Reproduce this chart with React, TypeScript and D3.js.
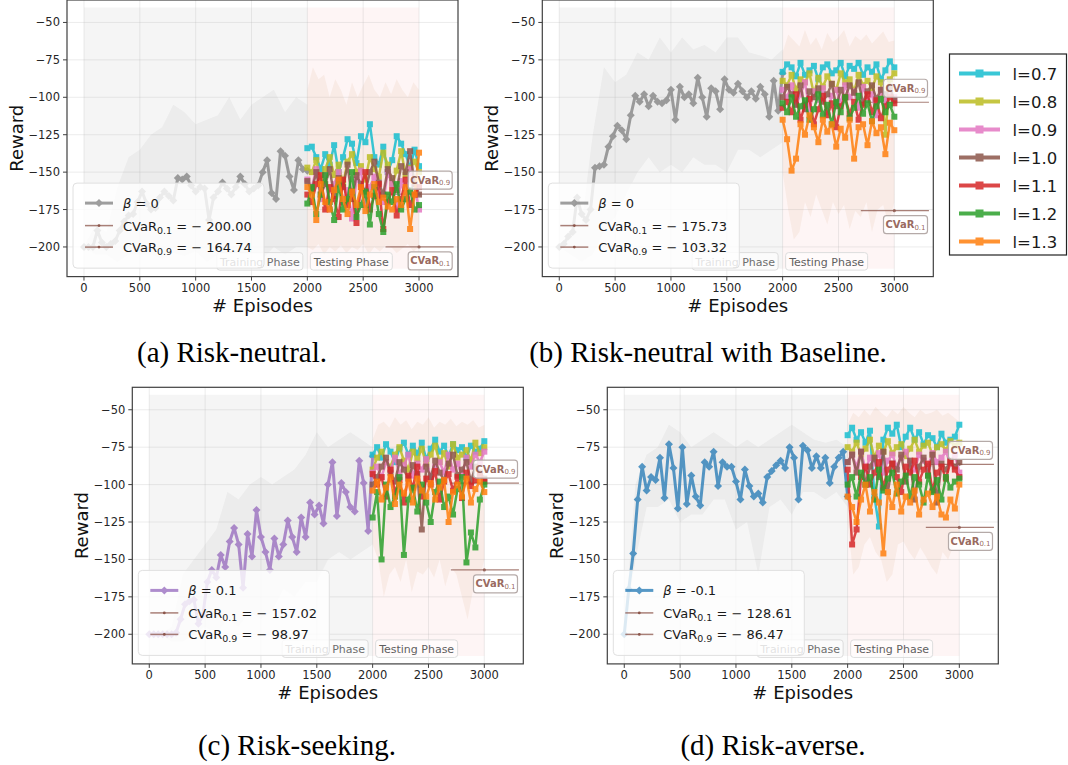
import React from "react";
import * as d3 from "d3";

// ---------------- DATA ----------------
const trainEpisodes = d3.range(0, 2001, 40);
const testEpisodes = d3.range(2000, 3001, 40);
const bandTrainEpisodes = d3.range(0, 2001, 100);
const bandTestEpisodes = d3.range(2000, 3001, 50);

const xTicks = [0, 500, 1000, 1500, 2000, 2500, 3000];
const yTicks = [-50, -75, -100, -125, -150, -175, -200];

const lambdaLabels = ["l=0.7", "l=0.8", "l=0.9", "l=1.0", "l=1.1", "l=1.2", "l=1.3"];
const lambdaColors = ["#17becf", "#bcbd22", "#e377c2", "#8c564b", "#d62728", "#2ca02c", "#ff7f0e"];

// Panel (a) Risk-neutral
const trainA = [-200, -200, -200, -189, -197, -200, -198, -196, -189, -183, -179, -178, -170, -163, -171, -175, -174, -167, -163, -166, -169, -154, -155, -153, -159, -163, -160, -161, -182, -167, -163, -157, -161, -165, -160, -153, -158, -163, -161, -159, -150, -142, -164, -168, -136, -139, -153, -162, -142, -148, -149];
const trainUpA = [-200, -185, -190, -160, -140, -135, -125, -120, -105, -110, -118, -115, -112, -100, -115, -105, -100, -95, -110, -100, -105];
const trainLoA = [-200, -205, -205, -210, -205, -205, -205, -208, -204, -206, -203, -210, -205, -208, -210, -205, -208, -200, -205, -200, -200];
const testUpA = [-95, -80, -88, -85, -100, -88, -95, -105, -90, -100, -92, -85, -95, -100, -90, -98, -88, -95, -100, -90, -95];
const testLoA = [-200, -202, -198, -205, -200, -203, -199, -204, -200, -202, -198, -205, -200, -203, -199, -200, -204, -201, -198, -203, -200];
const testA = [
  [-134, -133, -140, -148, -138, -145, -132, -150, -140, -128, -131, -144, -126, -130, -118, -140, -145, -133, -150, -142, -126, -131, -138, -147, -135, -146],
  [-147, -150, -142, -156, -148, -140, -152, -145, -158, -143, -138, -150, -146, -155, -140, -148, -153, -137, -145, -158, -149, -136, -152, -147, -143, -150],
  [-155, -160, -148, -168, -152, -175, -158, -150, -170, -162, -181, -155, -149, -172, -160, -153, -165, -170, -150, -158, -175, -156, -168, -148, -160, -175],
  [-156, -162, -150, -165, -158, -148, -166, -154, -160, -145, -168, -152, -158, -163, -150, -143, -157, -165, -148, -154, -162, -146, -150, -136, -158, -165],
  [-165, -170, -158, -152, -175, -160, -168, -180, -155, -172, -163, -184, -160, -150, -175, -166, -158, -188, -170, -162, -179, -168, -155, -172, -165, -160],
  [-171, -160, -178, -165, -152, -170, -182, -158, -175, -168, -150, -180, -172, -163, -185, -160, -178, -190, -165, -170, -158, -175, -168, -162, -175, -172],
  [-160, -165, -182, -158, -170, -175, -162, -155, -168, -178, -163, -172, -160, -176, -165, -158, -170, -167, -173, -175, -168, -172, -160, -188, -165, -137],
];

// Panel (b) Risk-neutral with Baseline
const trainB = [-200, -198, -193, -190, -167, -178, -182, -175, -147, -146, -145, -133, -126, -119, -122, -128, -112, -99, -103, -98, -106, -99, -103, -104, -102, -95, -115, -93, -100, -98, -104, -87, -100, -113, -94, -96, -108, -88, -95, -97, -91, -96, -100, -96, -101, -93, -98, -113, -89, -109, -84];
const trainUpB = [-200, -190, -185, -125, -80, -90, -85, -70, -75, -60, -70, -60, -68, -65, -70, -60, -60, -70, -72, -75, -68];
const trainLoB = [-200, -205, -210, -205, -190, -180, -165, -150, -140, -150, -145, -150, -140, -145, -145, -150, -135, -135, -140, -135, -130];
const testUpB = [-70, -58, -62, -66, -55, -65, -60, -68, -57, -63, -60, -55, -66, -59, -62, -58, -64, -60, -56, -63, -62];
const testLoB = [-150, -175, -195, -190, -170, -180, -165, -175, -185, -170, -178, -172, -188, -176, -180, -170, -190, -175, -172, -185, -170];
const testB = [
  [-83, -78, -80, -86, -77, -85, -82, -79, -88, -80, -78, -84, -82, -77, -86, -79, -81, -77, -85, -80, -83, -78, -88, -82, -76, -80],
  [-89, -92, -85, -95, -88, -90, -84, -98, -87, -93, -86, -91, -95, -84, -90, -88, -96, -85, -92, -89, -94, -86, -90, -125, -88, -84],
  [-95, -100, -92, -105, -98, -90, -108, -96, -102, -94, -110, -99, -95, -104, -92, -100, -96, -107, -93, -101, -98, -112, -95, -103, -97, -100],
  [-100, -93, -98, -105, -92, -108, -96, -100, -94, -103, -98, -91, -106, -95, -100, -92, -97, -90, -104, -96, -92, -101, -95, -98, -93, -102],
  [-107, -103, -110, -98, -115, -105, -101, -118, -108, -99, -112, -104, -120, -106, -100, -111, -103, -115, -105, -98, -110, -102, -114, -106, -100, -104],
  [-104, -110, -100, -113, -106, -102, -115, -108, -98, -112, -105, -118, -103, -110, -100, -114, -107, -99, -111, -104, -116, -106, -101, -110, -105, -113],
  [-115, -128, -149, -141, -118, -125, -112, -120, -130, -115, -123, -118, -133, -121, -127, -115, -141, -120, -118, -132, -116, -124, -120, -138, -117, -122],
];

// Panel (c) Risk-seeking
const trainC = [-200, -200, -200, -200, -200, -200, -199, -190, -180, -178, -177, -193, -187, -165, -157, -162, -147, -155, -138, -129, -140, -169, -133, -148, -117, -135, -145, -157, -136, -148, -140, -124, -135, -145, -122, -135, -112, -120, -114, -126, -100, -85, -121, -99, -105, -115, -118, -84, -99, -131, -81];
const trainUpC = [-200, -200, -195, -160, -150, -140, -130, -105, -110, -100, -95, -100, -95, -90, -80, -65, -75, -70, -65, -70, -75];
const trainLoC = [-200, -200, -205, -205, -200, -195, -200, -190, -195, -185, -190, -185, -170, -175, -165, -165, -150, -145, -150, -145, -140];
const testUpC = [-70, -60, -58, -62, -55, -60, -57, -63, -58, -60, -55, -62, -58, -60, -56, -61, -58, -60, -57, -62, -60];
const testLoC = [-140, -150, -175, -160, -155, -165, -150, -172, -158, -160, -155, -162, -150, -168, -155, -160, -175, -190, -170, -165, -150];
const testC = [
  [-80, -75, -82, -73, -78, -85, -76, -72, -80, -74, -79, -72, -83, -76, -70, -78, -74, -81, -73, -77, -75, -82, -74, -78, -76, -71],
  [-90, -82, -78, -85, -88, -80, -75, -84, -90, -78, -83, -76, -86, -80, -74, -85, -79, -88, -73, -82, -80, -77, -84, -72, -79, -75],
  [-92, -88, -95, -85, -90, -82, -93, -87, -80, -94, -86, -90, -83, -96, -88, -85, -92, -80, -90, -86, -94, -82, -88, -80, -85, -78],
  [-100, -95, -88, -82, -92, -98, -85, -90, -96, -87, -93, -130, -88, -95, -84, -92, -97, -86, -80, -94, -90, -85, -98, -88, -92, -96],
  [-93, -100, -95, -108, -90, -105, -97, -112, -94, -102, -88, -108, -96, -100, -91, -110, -98, -93, -104, -95, -109, -92, -101, -97, -94, -98],
  [-122, -105, -150, -100, -115, -108, -95, -147, -110, -102, -118, -100, -112, -125, -105, -98, -115, -108, -120, -103, -95, -152, -132, -142, -110, -100],
  [-104, -98, -110, -102, -95, -113, -100, -106, -98, -112, -96, -104, -108, -99, -110, -102, -97, -125, -105, -100, -108, -96, -112, -103, -98, -105],
];

// Panel (d) Risk-averse
const trainD = [-200, -170, -146, -110, -88, -104, -95, -97, -82, -109, -73, -89, -116, -75, -113, -94, -108, -114, -85, -88, -78, -101, -85, -88, -88, -98, -110, -90, -101, -108, -106, -112, -95, -91, -87, -84, -89, -75, -82, -110, -74, -77, -89, -81, -89, -82, -99, -88, -82, -78, -108];
const trainUpD = [-200, -100, -80, -75, -60, -65, -75, -70, -65, -70, -75, -70, -75, -70, -65, -60, -65, -70, -72, -70, -75];
const trainLoD = [-200, -150, -115, -115, -110, -125, -120, -120, -110, -110, -130, -125, -160, -115, -110, -120, -105, -105, -110, -105, -115];
const testUpD = [-60, -52, -55, -50, -54, -48, -52, -55, -50, -53, -48, -52, -55, -50, -53, -52, -50, -54, -52, -55, -58];
const testLoD = [-125, -160, -155, -140, -135, -145, -150, -165, -160, -140, -138, -145, -150, -142, -148, -155, -160, -145, -150, -140, -135];
const testD = [
  [-67, -62, -70, -65, -72, -64, -108, -128, -70, -62, -66, -60, -75, -68, -62, -70, -65, -73, -67, -69, -75, -66, -72, -70, -68, -60],
  [-75, -78, -72, -80, -76, -70, -82, -74, -78, -71, -79, -75, -73, -81, -76, -70, -78, -74, -72, -80, -75, -73, -77, -71, -74, -72],
  [-85, -80, -88, -78, -90, -82, -86, -79, -92, -84, -80, -88, -82, -78, -86, -90, -80, -84, -88, -79, -85, -82, -78, -86, -80, -92],
  [-85, -80, -92, -78, -100, -88, -82, -95, -78, -105, -86, -90, -80, -98, -84, -110, -88, -82, -94, -80, -112, -86, -90, -84, -88, -85],
  [-90, -140, -130, -95, -88, -100, -92, -85, -102, -90, -86, -95, -105, -88, -92, -84, -98, -90, -86, -104, -92, -88, -96, -85, -90, -95],
  [-100, -95, -108, -92, -100, -95, -110, -90, -104, -96, -92, -106, -98, -94, -108, -95, -100, -112, -94, -105, -97, -110, -95, -102, -98, -96],
  [-108, -115, -125, -110, -100, -118, -105, -112, -146, -105, -115, -100, -118, -108, -112, -104, -120, -110, -106, -115, -108, -120, -122, -110, -116, -100],
];

const betaLabels = ["0", "0", "0.1", "-0.1"];
const cvar01Values = [-200.0, -175.73, -157.02, -128.61];
const cvar09Values = [-164.74, -103.32, -98.97, -86.47];
const captions = ["(a) Risk-neutral.", "(b) Risk-neutral with Baseline.", "(c) Risk-seeking.", "(d) Risk-averse."];

// ---------------- LAYOUT ----------------
const FRAME_W = 391;
const FRAME_H = 276.6;
const X_DOMAIN = [-152, 3349];
const Y_DOMAIN = [-219.8, -35];
const SANS = "DejaVu Sans";
const SERIF = "Liberation Serif";
const CVAR_COLOR = "#8c564b";

const panelLayout = [
  { left: 67, top: 0 },
  { left: 542.3, top: 0 },
  { left: 132.3, top: 387.3 },
  { left: 607.3, top: 387.3 },
];
const captionLayout = [
  { x: 232, y: 362 },
  { x: 708, y: 362 },
  { x: 297, y: 755 },
  { x: 773, y: 755 },
];
const trainColors = ["#7f7f7f", "#7f7f7f", "#9467bd", "#1f77b4"];

const diamond = (r: number) => `M0,${-r}L${r},0L0,${r}L${-r},0Z`;

type PanelProps = {
  left: number;
  top: number;
  train: number[];
  trainUp: number[];
  trainLo: number[];
  testUp: number[];
  testLo: number[];
  tests: number[][];
  color: string;
  beta: string;
  cvar01: number;
  cvar09: number;
  id: string;
};

function CVaRLabel({ cx, cy, sub }: { cx: number; cy: number; sub: string }) {
  const w = 44;
  const h = 18;
  return (
    <g>
      <rect x={cx - w / 2} y={cy - h / 2} width={w} height={h} rx={3} fill="#ffffff" fillOpacity={0.8} stroke="#b5aaa8" strokeWidth={1.2} />
      <text x={cx} y={cy + 3.5} textAnchor="middle" fontFamily={SANS} fontSize={10} fontWeight="bold" fill={CVAR_COLOR} fillOpacity={0.9}>
        CVaR
        <tspan fontSize={7} fontWeight="normal" dy={1.5}>{sub}</tspan>
      </text>
    </g>
  );
}

function Panel(p: PanelProps) {
  const x = d3.scaleLinear().domain(X_DOMAIN).range([p.left, p.left + FRAME_W]);
  const y = d3.scaleLinear().domain(Y_DOMAIN).range([p.top + FRAME_H, p.top]);
  const bottom = p.top + FRAME_H;

  const trainLine = d3.line<number>().x((_, i) => x(trainEpisodes[i])).y((d) => y(d));
  const testLine = d3.line<number>().x((_, i) => x(testEpisodes[i])).y((d) => y(d));
  const trainBand = d3
    .area<number>()
    .x((_, i) => x(bandTrainEpisodes[i]))
    .y0((_, i) => y(p.trainLo[i]))
    .y1((d) => y(d));
  const testBand = d3
    .area<number>()
    .x((_, i) => x(bandTestEpisodes[i]))
    .y0((_, i) => y(p.testLo[i]))
    .y1((d) => y(d));

  const fmt = d3.format(".2f");
  const regionTop = y(-40);
  const regionBottom = y(-214.5);

  const legLeft = p.left + 6;
  const legTop = bottom - 8.5 - 85;
  const legW = 191;
  const legH = 85;
  const entryY = [legTop + 20, legTop + 42.5, legTop + 64];
  const lx0 = legLeft + 12;
  const lx1 = legLeft + 40;
  const tx = legLeft + 50;

  const cvarLineY09 = y(p.cvar09);
  const cvarLineY01 = y(p.cvar01);
  const labelCx = x(3100);

  const x2000 = x(2000);

  return (
    <g>
      <defs>
        <clipPath id={`clip-${p.id}`}>
          <rect x={p.left} y={p.top} width={FRAME_W} height={FRAME_H} />
        </clipPath>
      </defs>
      <rect x={p.left} y={p.top} width={FRAME_W} height={FRAME_H} fill="#ffffff" />
      {/* phase regions */}
      <rect x={x(0)} y={regionTop} width={x(2000) - x(0)} height={regionBottom - regionTop} fill="#808080" fillOpacity={0.08} />
      <rect x={x(2000)} y={regionTop} width={x(3000) - x(2000)} height={regionBottom - regionTop} fill="#f08080" fillOpacity={0.08} />
      {/* grid */}
      {xTicks.map((t) => (
        <line key={"gx" + t} x1={x(t)} x2={x(t)} y1={p.top} y2={bottom} stroke="#b0b0b0" strokeOpacity={0.3} strokeWidth={0.8} />
      ))}
      {yTicks.map((t) => (
        <line key={"gy" + t} x1={p.left} x2={p.left + FRAME_W} y1={y(t)} y2={y(t)} stroke="#b0b0b0" strokeOpacity={0.3} strokeWidth={0.8} />
      ))}
      <g clipPath={`url(#clip-${p.id})`}>
        {/* bands */}
        <path d={trainBand(p.trainUp) || ""} fill="#9a9a9a" fillOpacity={0.1} />
        <path d={testBand(p.testUp) || ""} fill="#d9a27a" fillOpacity={0.12} />
        {/* CVaR lines */}
        <line x1={x(2700)} x2={x(3310)} y1={cvarLineY09} y2={cvarLineY09} stroke={CVAR_COLOR} strokeOpacity={0.75} strokeWidth={1.2} />
        <circle cx={x(3000)} cy={cvarLineY09} r={1.6} fill={CVAR_COLOR} fillOpacity={0.8} />
        <line x1={x(2700)} x2={x(3310)} y1={cvarLineY01} y2={cvarLineY01} stroke={CVAR_COLOR} strokeOpacity={0.75} strokeWidth={1.2} />
        <circle cx={x(3000)} cy={cvarLineY01} r={1.6} fill={CVAR_COLOR} fillOpacity={0.8} />
        {/* training series */}
        <g opacity={0.75}>
          <path d={trainLine(p.train) || ""} fill="none" stroke={p.color} strokeWidth={3} strokeLinejoin="round" />
          {p.train.map((v, i) => (
            <path key={i} d={diamond(4)} transform={`translate(${x(trainEpisodes[i])},${y(v)})`} fill={p.color} />
          ))}
        </g>
        {/* test series */}
        {p.tests.map((s, k) => (
          <g key={k} opacity={0.85}>
            <path d={testLine(s) || ""} fill="none" stroke={lambdaColors[k]} strokeWidth={2.5} strokeLinejoin="round" />
            {s.map((v, i) => (
              <rect key={i} x={x(testEpisodes[i]) - 3} y={y(v) - 3} width={6} height={6} fill={lambdaColors[k]} />
            ))}
          </g>
        ))}
      </g>
      {/* phase labels */}
      <g fontFamily={SANS} fontSize={11}>
        <rect x={x2000 - 4.5 - 86} y={bottom - 24} width={86} height={17.5} rx={3} fill="#ffffff" fillOpacity={0.6} stroke="#dddddd" strokeWidth={1} />
        <text x={x2000 - 4.5 - 43} y={bottom - 11} textAnchor="middle" fill="#6f6f6f">Training Phase</text>
        <rect x={x2000 + 3} y={bottom - 24} width={82} height={17.5} rx={3} fill="#ffffff" fillOpacity={0.6} stroke="#dddddd" strokeWidth={1} />
        <text x={x2000 + 3 + 41} y={bottom - 11} textAnchor="middle" fill="#5f5f5f">Testing Phase</text>
      </g>
      {/* CVaR labels */}
      <CVaRLabel cx={labelCx} cy={cvarLineY09 - 5 - 9} sub="0.9" />
      <CVaRLabel cx={labelCx} cy={cvarLineY01 + 5 + 9} sub="0.1" />
      {/* legend */}
      <rect x={legLeft} y={legTop} width={legW} height={legH} rx={4} fill="#ffffff" fillOpacity={0.8} stroke="#e0e0e0" strokeWidth={1} />
      <g opacity={0.75}>
        <line x1={lx0} x2={lx1} y1={entryY[0]} y2={entryY[0]} stroke={p.color} strokeWidth={3} />
        <path d={diamond(4)} transform={`translate(${(lx0 + lx1) / 2},${entryY[0]})`} fill={p.color} />
      </g>
      {[1, 2].map((k) => (
        <g key={k}>
          <line x1={lx0} x2={lx1} y1={entryY[k]} y2={entryY[k]} stroke={CVAR_COLOR} strokeOpacity={0.75} strokeWidth={1.5} />
          <circle cx={(lx0 + lx1) / 2} cy={entryY[k]} r={1.4} fill={CVAR_COLOR} />
        </g>
      ))}
      <g fontFamily={SANS} fontSize={13} fill="#1a1a1a">
        <text x={tx} y={entryY[0] + 5}>
          <tspan fontStyle="italic">β</tspan>
          <tspan> = {p.beta}</tspan>
        </text>
        <text x={tx} y={entryY[1] + 5}>
          CVaR<tspan fontSize={9.5} dy={3}>0.1</tspan>
          <tspan dy={-3}> = − {fmt(Math.abs(p.cvar01))}</tspan>
        </text>
        <text x={tx} y={entryY[2] + 5}>
          CVaR<tspan fontSize={9.5} dy={3}>0.9</tspan>
          <tspan dy={-3}> = − {fmt(Math.abs(p.cvar09))}</tspan>
        </text>
      </g>
      {/* frame */}
      <rect x={p.left} y={p.top} width={FRAME_W} height={FRAME_H} fill="none" stroke="#404040" strokeWidth={1.2} />
      {/* ticks */}
      <g fontFamily={SANS} fontSize={11.5} fill="#262626">
        {xTicks.map((t) => (
          <g key={"tx" + t}>
            <line x1={x(t)} x2={x(t)} y1={bottom} y2={bottom + 4} stroke="#404040" strokeWidth={1} />
            <text x={x(t)} y={bottom + 15.5} textAnchor="middle">{t}</text>
          </g>
        ))}
        {yTicks.map((t) => (
          <g key={"ty" + t}>
            <line x1={p.left - 4} x2={p.left} y1={y(t)} y2={y(t)} stroke="#404040" strokeWidth={1} />
            <text x={p.left - 7} y={y(t) + 4} textAnchor="end">{"−" + Math.abs(t)}</text>
          </g>
        ))}
      </g>
      <text x={p.left + FRAME_W / 2} y={bottom + 35} textAnchor="middle" fontFamily={SANS} fontSize={18} fill="#111">
        # Episodes
      </text>
      <text
        transform={`translate(${p.left - 44},${p.top + FRAME_H / 2}) rotate(-90)`}
        textAnchor="middle"
        fontFamily={SANS}
        fontSize={18}
        fill="#111"
      >
        Reward
      </text>
    </g>
  );
}

export default function App() {
  const panels = [
    { train: trainA, trainUp: trainUpA, trainLo: trainLoA, testUp: testUpA, testLo: testLoA, tests: testA },
    { train: trainB, trainUp: trainUpB, trainLo: trainLoB, testUp: testUpB, testLo: testLoB, tests: testB },
    { train: trainC, trainUp: trainUpC, trainLo: trainLoC, testUp: testUpC, testLo: testLoC, tests: testC },
    { train: trainD, trainUp: trainUpD, trainLo: trainLoD, testUp: testUpD, testLo: testLoD, tests: testD },
  ];
  const legX = 949.5;
  const legY = 54;
  return (
    <svg width={1068} height={765} style={{ position: "absolute", left: 0, top: 0, display: "block" }}>
      <rect x={0} y={0} width={1068} height={765} fill="#ffffff" />
      {panels.map((d, i) => (
        <Panel
          key={i}
          id={"p" + i}
          left={panelLayout[i].left}
          top={panelLayout[i].top}
          {...d}
          color={trainColors[i]}
          beta={betaLabels[i]}
          cvar01={cvar01Values[i]}
          cvar09={cvar09Values[i]}
        />
      ))}
      {captions.map((c, i) => (
        <text key={c} x={captionLayout[i].x} y={captionLayout[i].y} textAnchor="middle" fontFamily={SERIF} fontSize={29} fill="#000">
          {c}
        </text>
      ))}
      {/* global lambda legend */}
      <rect x={legX} y={legY} width={117} height={201} fill="#ffffff" stroke="#222" strokeWidth={1.2} />
      {lambdaLabels.map((l, i) => {
        const cy = legY + 19.5 + i * 28;
        return (
          <g key={l}>
            <g opacity={0.85}>
              <line x1={legX + 9.5} x2={legX + 50.5} y1={cy} y2={cy} stroke={lambdaColors[i]} strokeWidth={4} />
              <rect x={legX + 30 - 4} y={cy - 4} width={8} height={8} fill={lambdaColors[i]} />
            </g>
            <text x={legX + 63} y={cy + 6} fontFamily={SANS} fontSize={16.5} fill="#1a1a1a">
              {l}
            </text>
          </g>
        );
      })}
    </svg>
  );
}
